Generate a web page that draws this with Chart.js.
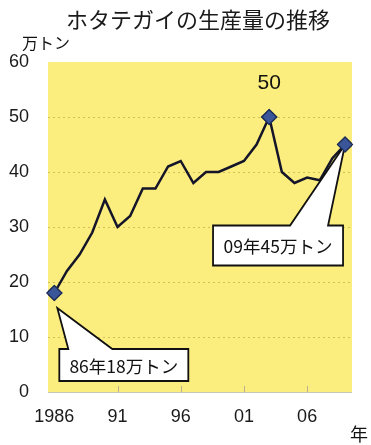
<!DOCTYPE html>
<html>
<head>
<meta charset="utf-8">
<script src="https://cdn.jsdelivr.net/npm/chart.js@4/dist/chart.umd.min.js"></script>
<style>
html,body{margin:0;padding:0;background:#fff;}
#wrap{width:371px;height:445px;position:relative;}
</style>
</head>
<body>
<div id="wrap"><canvas id="c" width="371" height="445"></canvas></div>
<script>
const years = [1986,1987,1988,1989,1990,1991,1992,1993,1994,1995,1996,1997,1998,1999,2000,2001,2002,2003,2004,2005,2006,2007,2008,2009];
const production = [18,22,25,29,35,30,32,37,37,41,42,38,40,40,41,42,45,50,40,38,39,38.5,42.5,45];
const markedYears = [1986,2003,2009];
const xTickYears = [1986,1991,1996,2001,2006];
const xTickLabels = ['1986','91','96','01','06'];
const yTicks = [0,10,20,30,40,50,60];
const titleText = 'ホタテガイの生産量の推移';
const yUnit = '万トン';
const xUnit = '年';
const peakLabel = '50';
const callouts = [
  {year:1986, value:18, text:'86年18万トン'},
  {year:2009, value:45, text:'09年45万トン'}
];

const JP = '"Noto Sans CJK JP", "Noto Sans", sans-serif';
const NUM = '"Liberation Sans", Arial, sans-serif';

const bgPlugin = {
  id:'bg',
  beforeDraw(chart){
    const {ctx, chartArea:a} = chart;
    ctx.save();
    ctx.fillStyle = '#fbed7e';
    ctx.fillRect(a.left, a.top, a.right-a.left, a.bottom-a.top);
    ctx.strokeStyle = '#c8c8b8';
    ctx.lineWidth = 1;
    ctx.beginPath();
    ctx.moveTo(a.left, a.bottom+0.5); ctx.lineTo(a.right, a.bottom+0.5);
    ctx.stroke();
    const xs = chart.scales.x;
    ctx.strokeStyle = '#b8b090';
    xTickYears.slice(1).forEach(y=>{
      const px = Math.round(xs.getPixelForValue(y))+0.5;
      ctx.beginPath(); ctx.moveTo(px, a.bottom-6); ctx.lineTo(px, a.bottom); ctx.stroke();
    });
    const ys = chart.scales.y;
    ctx.strokeStyle = '#d2bf58';
    ctx.lineWidth = 1.2;
    ctx.setLineDash([2,3]);
    yTicks.filter(v=>v>0 && v<60).forEach(v=>{
      const py = Math.round(ys.getPixelForValue(v))+0.5;
      ctx.beginPath(); ctx.moveTo(a.left, py); ctx.lineTo(a.right, py); ctx.stroke();
    });
    ctx.restore();
  }
};

const annoPlugin = {
  id:'anno',
  afterDatasetsDraw(chart){
    const {ctx} = chart;
    const xs = chart.scales.x, ys = chart.scales.y;
    ctx.save();
    // title
    ctx.fillStyle = '#1a1a1a';
    ctx.font = '22px ' + JP;
    ctx.textAlign = 'center';
    ctx.textBaseline = 'middle';
    ctx.fillText(titleText, 198, 20);

    const pi = production.indexOf(Math.max(...production));
    ctx.font = '21px ' + NUM;
    ctx.fillStyle = '#111';
    ctx.fillText(peakLabel, xs.getPixelForValue(years[pi]), ys.getPixelForValue(production[pi]) - 34);

    const specs = {
      1986:{bx0:5,bx1:134,by0:56,by1:88,p0:14,p1:58,tx:3,ty:15},
      2009:{bx0:-132,bx1:-2,by0:81,by1:121,p0:-55,p1:-17,tx:0,ty:0}
    };
    callouts.forEach(c=>{
      const px = xs.getPixelForValue(c.year), py = ys.getPixelForValue(c.value);
      const s = specs[c.year];
      const L = px+s.bx0, R = px+s.bx1, T = py+s.by0, B = py+s.by1;
      ctx.beginPath();
      ctx.moveTo(L, T);
      ctx.lineTo(px+s.p0, T);
      ctx.lineTo(px+s.tx, py+s.ty);
      ctx.lineTo(px+s.p1, T);
      ctx.lineTo(R, T);
      ctx.lineTo(R, B);
      ctx.lineTo(L, B);
      ctx.closePath();
      ctx.fillStyle = '#fff';
      ctx.fill();
      ctx.strokeStyle = '#111';
      ctx.lineWidth = 1.8;
      ctx.lineJoin = 'miter';
      ctx.stroke();
      ctx.fillStyle = '#111';
      ctx.font = '17.5px ' + JP;
      ctx.textAlign = 'center';
      ctx.textBaseline = 'middle';
      ctx.fillText(c.text, (L+R)/2, (T+B)/2+1);
    });

    const meta = chart.getDatasetMeta(0);
    meta.data.forEach((el,i)=>{ if (markedYears.includes(years[i])) el.draw(ctx); });

    ctx.fillStyle = '#111';
    ctx.font = '16px ' + JP;
    ctx.textAlign = 'left';
    ctx.textBaseline = 'middle';
    ctx.fillText(yUnit, 22, 43);
    ctx.font = '18px ' + JP;
    ctx.fillText(xUnit, 350, 434);
    ctx.restore();
  }
};

const pointRadius = years.map(y => markedYears.includes(y) ? 7.5 : 0);

new Chart(document.getElementById('c'), {
  type:'line',
  data:{
    datasets:[{
      data: years.map((y,i)=>({x:y, y:production[i]})),
      borderColor:'#15152a',
      borderWidth:2.5,
      tension:0,
      pointStyle:'rectRot',
      pointRadius: pointRadius,
      pointHoverRadius: pointRadius,
      pointBackgroundColor:'#3a5598',
      pointBorderColor:'#1c2c55',
      pointBorderWidth:1.2
    }]
  },
  options:{
    responsive:false,
    animation:false,
    events:[],
    layout:{padding:{left:0,right:19,top:62,bottom:0}},
    plugins:{
      legend:{display:false},
      tooltip:{enabled:false},
      title:{display:false}
    },
    scales:{
      x:{
        type:'linear',
        min:1985.5,
        max:2009.55,
        afterBuildTicks(scale){ scale.ticks = xTickYears.map(v=>({value:v})); },
        afterFit(scale){ scale.height = 53; },
        ticks:{
          autoSkip:false,
          maxRotation:0,
          padding:14,
          color:'#1a1a1a',
          font:{family:NUM, size:18},
          callback:(v)=>{ const i = xTickYears.indexOf(v); return i>=0 ? xTickLabels[i] : ''; }
        },
        grid:{display:false, drawTicks:false},
        border:{display:false}
      },
      y:{
        min:0,
        max:60,
        afterBuildTicks(scale){ scale.ticks = yTicks.map(v=>({value:v})); },
        afterFit(scale){ scale.width = 48; },
        ticks:{
          padding:19,
          color:'#1a1a1a',
          font:{family:NUM, size:18}
        },
        grid:{display:false, drawTicks:false},
        border:{display:false}
      }
    }
  },
  plugins:[bgPlugin, annoPlugin]
});
</script>
</body>
</html>
